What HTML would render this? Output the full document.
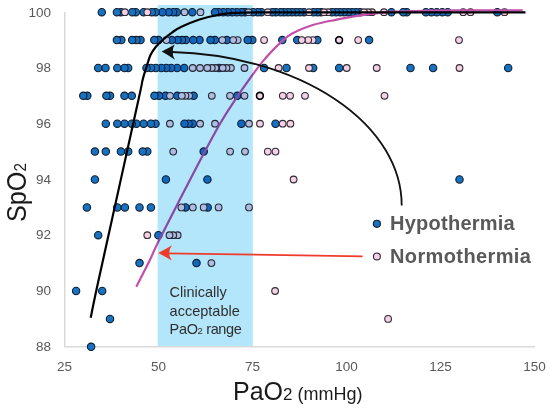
<!DOCTYPE html>
<html><head><meta charset="utf-8">
<style>
html,body{margin:0;padding:0;background:#fff;}
body{width:550px;height:411px;overflow:hidden;position:relative;font-family:"Liberation Sans",sans-serif;}
svg{position:absolute;left:0;top:0;}
.b{fill:#1872c0;stroke:#0e1e30;stroke-width:1.1;}
.p{fill:#f5d1e6;stroke:#332a33;stroke-width:1.1;}
.tk{font-size:13.5px;fill:#595959;}
</style></head><body>
<svg width="550" height="411" viewBox="0 0 550 411">
<line x1="64.8" y1="12" x2="64.8" y2="346.8" stroke="#d9d9d9" stroke-width="1.5"/>
<line x1="64" y1="346.8" x2="535" y2="346.8" stroke="#d9d9d9" stroke-width="1.5"/>
<g><circle cx="508.2" cy="68.0" r="3.7" class="b"/><circle cx="497.3" cy="12.2" r="3.7" class="b"/><circle cx="459.5" cy="179.5" r="3.7" class="b"/><circle cx="447.7" cy="12.2" r="3.7" class="b"/><circle cx="442.3" cy="12.2" r="3.7" class="b"/><circle cx="436.8" cy="12.2" r="3.7" class="b"/><circle cx="433.1" cy="68.0" r="3.7" class="b"/><circle cx="431.4" cy="12.2" r="3.7" class="b"/><circle cx="425.9" cy="12.2" r="3.7" class="b"/><circle cx="410.5" cy="68.0" r="3.7" class="b"/><circle cx="406.8" cy="12.2" r="3.7" class="b"/><circle cx="403.2" cy="12.2" r="3.7" class="b"/><circle cx="391.4" cy="12.2" r="3.7" class="b"/><circle cx="369.1" cy="40.1" r="3.7" class="b"/><circle cx="360.0" cy="12.2" r="3.7" class="b"/><circle cx="356.0" cy="12.2" r="3.7" class="b"/><circle cx="352.0" cy="12.2" r="3.7" class="b"/><circle cx="348.0" cy="12.2" r="3.7" class="b"/><circle cx="344.0" cy="12.2" r="3.7" class="b"/><circle cx="340.0" cy="12.2" r="3.7" class="b"/><circle cx="339.2" cy="68.0" r="3.7" class="b"/><circle cx="336.0" cy="12.2" r="3.7" class="b"/><circle cx="332.0" cy="12.2" r="3.7" class="b"/><circle cx="321.0" cy="12.2" r="3.7" class="b"/><circle cx="317.5" cy="12.2" r="3.7" class="b"/><circle cx="317.3" cy="40.1" r="3.7" class="b"/><circle cx="313.5" cy="12.2" r="3.7" class="b"/><circle cx="313.2" cy="68.0" r="3.7" class="b"/><circle cx="304.0" cy="12.2" r="3.7" class="b"/><circle cx="300.0" cy="12.2" r="3.7" class="b"/><circle cx="297.3" cy="40.1" r="3.7" class="b"/><circle cx="296.0" cy="12.2" r="3.7" class="b"/><circle cx="292.0" cy="12.2" r="3.7" class="b"/><circle cx="288.0" cy="12.2" r="3.7" class="b"/><circle cx="286.5" cy="68.0" r="3.7" class="b"/><circle cx="284.0" cy="12.2" r="3.7" class="b"/><circle cx="282.3" cy="40.1" r="3.7" class="b"/><circle cx="280.5" cy="12.2" r="3.7" class="b"/><circle cx="275.9" cy="12.2" r="3.7" class="b"/><circle cx="275.5" cy="123.7" r="3.7" class="b"/><circle cx="272.3" cy="12.2" r="3.7" class="b"/><circle cx="264.1" cy="68.0" r="3.7" class="b"/><circle cx="261.4" cy="12.2" r="3.7" class="b"/><circle cx="257.7" cy="12.2" r="3.7" class="b"/><circle cx="253.2" cy="12.2" r="3.7" class="b"/><circle cx="252.3" cy="40.1" r="3.7" class="b"/><circle cx="247.7" cy="40.1" r="3.7" class="b"/><circle cx="245.0" cy="12.2" r="3.7" class="b"/><circle cx="241.4" cy="12.2" r="3.7" class="b"/><circle cx="241.4" cy="123.7" r="3.7" class="b"/><circle cx="237.3" cy="95.8" r="3.7" class="b"/><circle cx="236.8" cy="12.2" r="3.7" class="b"/><circle cx="232.3" cy="12.2" r="3.7" class="b"/><circle cx="227.7" cy="12.2" r="3.7" class="b"/><circle cx="226.8" cy="40.1" r="3.7" class="b"/><circle cx="223.2" cy="12.2" r="3.7" class="b"/><circle cx="219.1" cy="68.0" r="3.7" class="b"/><circle cx="218.6" cy="12.2" r="3.7" class="b"/><circle cx="215.0" cy="12.2" r="3.7" class="b"/><circle cx="215.0" cy="40.1" r="3.7" class="b"/><circle cx="210.5" cy="40.1" r="3.7" class="b"/><circle cx="207.7" cy="207.4" r="3.7" class="b"/><circle cx="207.4" cy="179.5" r="3.7" class="b"/><circle cx="203.7" cy="151.6" r="3.7" class="b"/><circle cx="199.5" cy="40.1" r="3.7" class="b"/><circle cx="196.5" cy="263.1" r="3.7" class="b"/><circle cx="193.6" cy="95.8" r="3.7" class="b"/><circle cx="193.2" cy="40.1" r="3.7" class="b"/><circle cx="192.8" cy="123.7" r="3.7" class="b"/><circle cx="192.3" cy="12.2" r="3.7" class="b"/><circle cx="188.6" cy="123.7" r="3.7" class="b"/><circle cx="186.0" cy="40.1" r="3.7" class="b"/><circle cx="185.5" cy="207.4" r="3.7" class="b"/><circle cx="184.5" cy="123.7" r="3.7" class="b"/><circle cx="184.2" cy="68.0" r="3.7" class="b"/><circle cx="182.0" cy="40.1" r="3.7" class="b"/><circle cx="177.5" cy="40.1" r="3.7" class="b"/><circle cx="177.3" cy="95.8" r="3.7" class="b"/><circle cx="177.1" cy="68.0" r="3.7" class="b"/><circle cx="176.8" cy="12.2" r="3.7" class="b"/><circle cx="173.2" cy="12.2" r="3.7" class="b"/><circle cx="171.8" cy="40.1" r="3.7" class="b"/><circle cx="171.1" cy="68.0" r="3.7" class="b"/><circle cx="168.6" cy="12.2" r="3.7" class="b"/><circle cx="166.2" cy="68.0" r="3.7" class="b"/><circle cx="165.9" cy="179.5" r="3.7" class="b"/><circle cx="165.5" cy="95.8" r="3.7" class="b"/><circle cx="162.4" cy="12.2" r="3.7" class="b"/><circle cx="161.3" cy="68.0" r="3.7" class="b"/><circle cx="159.1" cy="95.8" r="3.7" class="b"/><circle cx="158.6" cy="40.1" r="3.7" class="b"/><circle cx="158.4" cy="235.2" r="3.7" class="b"/><circle cx="155.8" cy="68.0" r="3.7" class="b"/><circle cx="155.5" cy="12.2" r="3.7" class="b"/><circle cx="155.5" cy="123.7" r="3.7" class="b"/><circle cx="154.5" cy="95.8" r="3.7" class="b"/><circle cx="154.3" cy="40.1" r="3.7" class="b"/><circle cx="151.8" cy="12.2" r="3.7" class="b"/><circle cx="150.9" cy="68.0" r="3.7" class="b"/><circle cx="150.9" cy="123.7" r="3.7" class="b"/><circle cx="150.9" cy="207.4" r="3.7" class="b"/><circle cx="147.3" cy="151.6" r="3.7" class="b"/><circle cx="146.5" cy="68.0" r="3.7" class="b"/><circle cx="143.6" cy="12.2" r="3.7" class="b"/><circle cx="143.6" cy="123.7" r="3.7" class="b"/><circle cx="142.7" cy="151.6" r="3.7" class="b"/><circle cx="140.5" cy="40.1" r="3.7" class="b"/><circle cx="139.5" cy="207.4" r="3.7" class="b"/><circle cx="139.5" cy="263.1" r="3.7" class="b"/><circle cx="136.4" cy="40.1" r="3.7" class="b"/><circle cx="136.4" cy="123.7" r="3.7" class="b"/><circle cx="135.8" cy="12.2" r="3.7" class="b"/><circle cx="132.2" cy="12.2" r="3.7" class="b"/><circle cx="132.2" cy="40.1" r="3.7" class="b"/><circle cx="131.8" cy="95.8" r="3.7" class="b"/><circle cx="131.8" cy="123.7" r="3.7" class="b"/><circle cx="128.2" cy="68.0" r="3.7" class="b"/><circle cx="128.2" cy="151.6" r="3.7" class="b"/><circle cx="124.9" cy="207.4" r="3.7" class="b"/><circle cx="124.5" cy="68.0" r="3.7" class="b"/><circle cx="124.5" cy="95.8" r="3.7" class="b"/><circle cx="124.5" cy="123.7" r="3.7" class="b"/><circle cx="121.3" cy="40.1" r="3.7" class="b"/><circle cx="120.9" cy="12.2" r="3.7" class="b"/><circle cx="120.9" cy="151.6" r="3.7" class="b"/><circle cx="117.3" cy="68.0" r="3.7" class="b"/><circle cx="117.3" cy="123.7" r="3.7" class="b"/><circle cx="117.3" cy="207.4" r="3.7" class="b"/><circle cx="116.9" cy="12.2" r="3.7" class="b"/><circle cx="116.9" cy="40.1" r="3.7" class="b"/><circle cx="110.0" cy="95.8" r="3.7" class="b"/><circle cx="110.0" cy="318.9" r="3.7" class="b"/><circle cx="106.4" cy="95.8" r="3.7" class="b"/><circle cx="105.8" cy="123.7" r="3.7" class="b"/><circle cx="105.8" cy="151.6" r="3.7" class="b"/><circle cx="105.5" cy="68.0" r="3.7" class="b"/><circle cx="102.2" cy="291.0" r="3.7" class="b"/><circle cx="101.8" cy="12.2" r="3.7" class="b"/><circle cx="98.2" cy="68.0" r="3.7" class="b"/><circle cx="98.2" cy="235.2" r="3.7" class="b"/><circle cx="94.9" cy="151.6" r="3.7" class="b"/><circle cx="94.9" cy="179.5" r="3.7" class="b"/><circle cx="91.1" cy="346.8" r="3.7" class="b"/><circle cx="87.3" cy="95.8" r="3.7" class="b"/><circle cx="86.9" cy="207.4" r="3.7" class="b"/><circle cx="83.3" cy="95.8" r="3.7" class="b"/><circle cx="76.1" cy="291.0" r="3.7" class="b"/><circle cx="504.5" cy="12.2" r="3.35" class="p"/><circle cx="470.5" cy="12.2" r="3.35" class="p"/><circle cx="463.2" cy="12.2" r="3.35" class="p"/><circle cx="459.5" cy="68.0" r="3.35" class="p"/><circle cx="459.0" cy="40.1" r="3.35" class="p"/><circle cx="388.1" cy="318.9" r="3.35" class="p"/><circle cx="384.5" cy="95.8" r="3.35" class="p"/><circle cx="384.0" cy="12.2" r="3.35" class="p"/><circle cx="376.7" cy="68.0" r="3.35" class="p"/><circle cx="372.0" cy="12.2" r="3.35" class="p"/><circle cx="368.0" cy="12.2" r="3.35" class="p"/><circle cx="364.0" cy="12.2" r="3.35" class="p"/><circle cx="358.2" cy="40.1" r="3.35" class="p"/><circle cx="346.7" cy="68.0" r="3.35" class="p"/><circle cx="339.1" cy="40.1" r="3.35" class="p"/><circle cx="328.0" cy="12.2" r="3.35" class="p"/><circle cx="324.0" cy="12.2" r="3.35" class="p"/><circle cx="312.7" cy="40.1" r="3.35" class="p"/><circle cx="309.0" cy="12.2" r="3.35" class="p"/><circle cx="309.0" cy="68.0" r="3.35" class="p"/><circle cx="308.2" cy="40.1" r="3.35" class="p"/><circle cx="305.0" cy="95.8" r="3.35" class="p"/><circle cx="301.8" cy="40.1" r="3.35" class="p"/><circle cx="293.6" cy="179.5" r="3.35" class="p"/><circle cx="290.4" cy="123.7" r="3.35" class="p"/><circle cx="290.1" cy="95.8" r="3.35" class="p"/><circle cx="282.8" cy="95.8" r="3.35" class="p"/><circle cx="282.7" cy="123.7" r="3.35" class="p"/><circle cx="278.6" cy="68.0" r="3.35" class="p"/><circle cx="275.5" cy="151.6" r="3.35" class="p"/><circle cx="275.1" cy="291.0" r="3.35" class="p"/><circle cx="267.8" cy="151.6" r="3.35" class="p"/><circle cx="267.7" cy="12.2" r="3.35" class="p"/><circle cx="264.1" cy="40.1" r="3.35" class="p"/><circle cx="260.0" cy="123.7" r="3.35" class="p"/><circle cx="259.9" cy="95.8" r="3.35" class="p"/><circle cx="249.0" cy="123.7" r="3.35" class="p"/><circle cx="249.0" cy="207.4" r="3.35" class="p"/><circle cx="248.6" cy="12.2" r="3.35" class="p"/><circle cx="245.0" cy="151.6" r="3.35" class="p"/><circle cx="244.5" cy="68.0" r="3.35" class="p"/><circle cx="244.5" cy="95.8" r="3.35" class="p"/><circle cx="237.7" cy="40.1" r="3.35" class="p"/><circle cx="233.2" cy="40.1" r="3.35" class="p"/><circle cx="230.9" cy="68.0" r="3.35" class="p"/><circle cx="230.1" cy="151.6" r="3.35" class="p"/><circle cx="230.0" cy="95.8" r="3.35" class="p"/><circle cx="226.4" cy="68.0" r="3.35" class="p"/><circle cx="222.7" cy="68.0" r="3.35" class="p"/><circle cx="222.3" cy="40.1" r="3.35" class="p"/><circle cx="218.6" cy="207.4" r="3.35" class="p"/><circle cx="215.5" cy="68.0" r="3.35" class="p"/><circle cx="215.0" cy="123.7" r="3.35" class="p"/><circle cx="211.8" cy="68.0" r="3.35" class="p"/><circle cx="211.8" cy="95.8" r="3.35" class="p"/><circle cx="211.4" cy="263.1" r="3.35" class="p"/><circle cx="207.3" cy="68.0" r="3.35" class="p"/><circle cx="203.7" cy="207.4" r="3.35" class="p"/><circle cx="200.5" cy="12.2" r="3.35" class="p"/><circle cx="200.1" cy="123.7" r="3.35" class="p"/><circle cx="200.0" cy="68.0" r="3.35" class="p"/><circle cx="192.8" cy="207.4" r="3.35" class="p"/><circle cx="192.7" cy="68.0" r="3.35" class="p"/><circle cx="189.1" cy="95.8" r="3.35" class="p"/><circle cx="185.5" cy="95.8" r="3.35" class="p"/><circle cx="184.5" cy="12.2" r="3.35" class="p"/><circle cx="181.8" cy="95.8" r="3.35" class="p"/><circle cx="181.4" cy="207.4" r="3.35" class="p"/><circle cx="177.7" cy="235.2" r="3.35" class="p"/><circle cx="173.2" cy="151.6" r="3.35" class="p"/><circle cx="173.2" cy="235.2" r="3.35" class="p"/><circle cx="170.0" cy="95.8" r="3.35" class="p"/><circle cx="169.9" cy="123.7" r="3.35" class="p"/><circle cx="169.5" cy="235.2" r="3.35" class="p"/><circle cx="166.4" cy="40.1" r="3.35" class="p"/><circle cx="147.3" cy="12.2" r="3.35" class="p"/><circle cx="147.3" cy="235.2" r="3.35" class="p"/><circle cx="124.9" cy="12.2" r="3.35" class="p"/><circle cx="259.9" cy="95.8" r="3.4" class="p" style="stroke:#000;stroke-width:1.6"/><circle cx="339.1" cy="40.1" r="3.4" class="p" style="stroke:#000;stroke-width:1.6"/></g>
<path d="M136.3 286.7 C138.6 282.2 146.0 267.9 150.0 259.8 C154.0 251.7 152.2 253.8 160.2 238.0 C168.1 222.2 187.7 184.1 197.7 165.0 C207.7 145.9 213.8 134.4 220.0 123.7 C226.2 113.0 229.3 108.5 234.6 100.6 C239.9 92.7 246.9 82.7 251.6 76.2 C256.3 69.7 258.1 66.9 262.6 61.6 C267.1 56.3 273.5 49.2 278.4 44.6 C283.3 40.0 285.9 37.1 291.8 33.8 C297.7 30.5 306.3 27.1 313.6 24.8 C320.9 22.5 328.2 21.3 335.5 19.8 C342.8 18.3 348.2 17.2 357.3 15.9 C366.4 14.6 377.9 12.8 390.0 11.9 C402.1 11.0 416.7 10.9 430.0 10.7 C443.3 10.4 454.6 10.5 470.0 10.4 C485.4 10.3 513.9 10.3 522.7 10.3" fill="none" stroke="#c44faa" stroke-width="2.2"/>
<rect x="157.6" y="5" width="95.2" height="341" fill="#b4e6fb" style="mix-blend-mode:multiply"/>
<path d="M90.7 317.8 C92.2 310.7 91.9 310.5 99.7 275.0 C107.5 239.5 130.2 137.5 137.3 105.0 C144.5 72.5 141.0 86.6 142.6 80.0 C144.2 73.4 145.7 69.7 147.0 65.5 C148.3 61.3 149.0 58.1 150.5 55.0 C152.0 51.9 153.8 49.4 155.9 46.8 C158.0 44.2 160.5 41.9 163.2 39.5 C165.9 37.1 169.3 34.4 172.3 32.3 C175.3 30.2 176.9 28.9 181.4 26.8 C185.9 24.7 193.4 21.5 199.5 19.5 C205.6 17.5 211.8 16.1 217.7 15.0 C223.6 13.9 224.6 13.2 235.0 12.8 C245.4 12.4 252.5 12.4 280.0 12.3 C307.5 12.2 359.1 12.3 400.0 12.3 C440.9 12.3 504.6 12.4 525.5 12.4" fill="none" stroke="#000" stroke-width="2.2"/>
<path d="M401.7 205.5 A240 153.5 0 0 0 172 52" fill="none" stroke="#111" stroke-width="1.8"/>
<path d="M161.7 51.6 Q168 48.5 174.8 44.6 Q172.3 48.5 172.7 52 Q172.3 56 175 59.8 Q168 55 161.7 51.6 Z" fill="#111"/>
<path d="M362.5 256.4 L166 253.3" fill="none" stroke="#ef3b2c" stroke-width="1.8"/>
<path d="M158.2 252.9 Q165 249.5 172 245.2 Q169 249.5 169.3 253.1 Q169 257 171.8 260.6 Q165 256.5 158.2 252.9 Z" fill="#ef3b2c"/>
<circle cx="376.9" cy="223.8" r="3.55" class="b"/>
<circle cx="376.9" cy="256.4" r="3.45" class="p"/>
<g class="tk" text-anchor="end">
<text x="51" y="16.6">100</text><text x="51" y="72.4">98</text><text x="51" y="127.8">96</text><text x="51" y="183.8">94</text>
<text x="51" y="239.4">92</text><text x="51" y="295.4">90</text><text x="51" y="351.4">88</text>
</g>
<g class="tk" text-anchor="middle">
<text x="64.6" y="371">25</text><text x="158.6" y="371">50</text><text x="252.6" y="371">75</text>
<text x="346.6" y="371">100</text><text x="440.6" y="371">125</text><text x="534.6" y="371">150</text>
</g>
<text x="390" y="230.4" font-weight="bold" font-size="20" letter-spacing="0.25" fill="#595959">Hypothermia</text>
<text x="390" y="262.9" font-weight="bold" font-size="20" letter-spacing="0.38" fill="#595959">Normothermia</text>
<g fill="#2e2e2e" font-size="14.5">
<text x="169.6" y="297.3">Clinically</text>
<text x="169.6" y="315.5">acceptable</text>
<text x="169.6" y="334.3" letter-spacing="-0.35">PaO<tspan font-size="9.5">2</tspan> range</text>
</g>
<text x="233" y="400" font-size="25" fill="#1a1a1a">PaO<tspan font-size="17">2</tspan><tspan font-size="18"> (mmHg)</tspan></text>
<text transform="translate(26.3,222) rotate(-90) scale(0.9,1)" font-size="28" fill="#1a1a1a">SpO<tspan font-size="17">2</tspan></text>
</svg>
</body></html>
